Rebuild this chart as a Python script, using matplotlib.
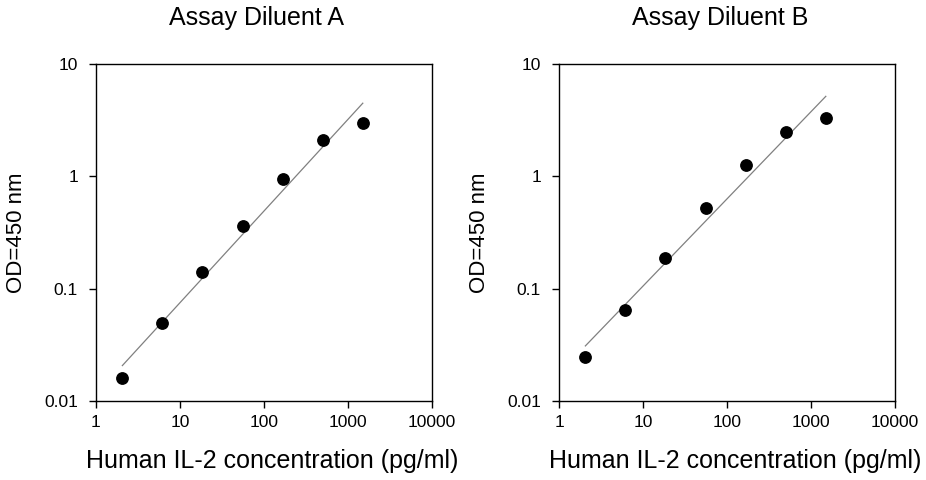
import numpy as np
import matplotlib.pyplot as plt
from matplotlib.ticker import FixedLocator, FixedFormatter, NullLocator

plt.rcParams['font.family'] = ['Liberation Sans', 'DejaVu Sans']

# IL-2 standard concentrations (pg/ml), 3-fold dilution series
conc = [2.06, 6.17, 18.5, 55.6, 166.7, 500, 1500]

# OD450 readings
od_a = [0.016, 0.0496, 0.140, 0.361, 0.955, 2.11, 2.98]
od_b = [0.0247, 0.0652, 0.186, 0.523, 1.26, 2.46, 3.32]

titles = ['Assay Diluent A', 'Assay Diluent B']
x_ticks = [1, 10, 100, 1000, 10000]
x_labels = ['1', '10', '100', '1000', '10000']
y_ticks = [0.01, 0.1, 1, 10]
y_labels = ['0.01', '0.1', '1', '10']

fig = plt.figure(figsize=(9.26, 4.8), dpi=100)
W, H = 926, 480

for left, od, title in [(96, od_a, titles[0]), (559, od_b, titles[1])]:
    ax = fig.add_axes([left / W, (H - 401) / H, 336 / W, 337 / H])
    ax.set_xscale('log')
    ax.set_yscale('log')
    ax.set_xlim(1, 10000)
    ax.set_ylim(0.01, 10)

    # log-log linear regression line
    lx, ly = np.log10(conc), np.log10(od)
    slope, icpt = np.polyfit(lx, ly, 1)
    xs = np.array([conc[0], conc[-1]])
    ax.plot(xs, 10 ** (icpt + slope * np.log10(xs)), color='#808080', lw=0.9)

    ax.plot(conc, od, 'o', color='black', markersize=8.2)

    ax.xaxis.set_major_locator(FixedLocator(x_ticks))
    ax.xaxis.set_major_formatter(FixedFormatter(x_labels))
    ax.yaxis.set_major_locator(FixedLocator(y_ticks))
    ax.yaxis.set_major_formatter(FixedFormatter(y_labels))
    ax.xaxis.set_minor_locator(NullLocator())
    ax.yaxis.set_minor_locator(NullLocator())
    ax.tick_params(direction='out', length=5, width=1, labelsize=12.5)
    ax.tick_params(axis='x', pad=5)
    ax.tick_params(axis='y', pad=8)
    for s in ax.spines.values():
        s.set_linewidth(1)

    ax.set_title(title, fontsize=18, pad=28, x=0.479)
    ax.set_xlabel('Human IL-2 concentration (pg/ml)', fontsize=18,
                  labelpad=14, x=0.524)
    ax.set_ylabel('OD=450 nm', fontsize=16, labelpad=12)

fig.savefig('out.png', dpi=100)
